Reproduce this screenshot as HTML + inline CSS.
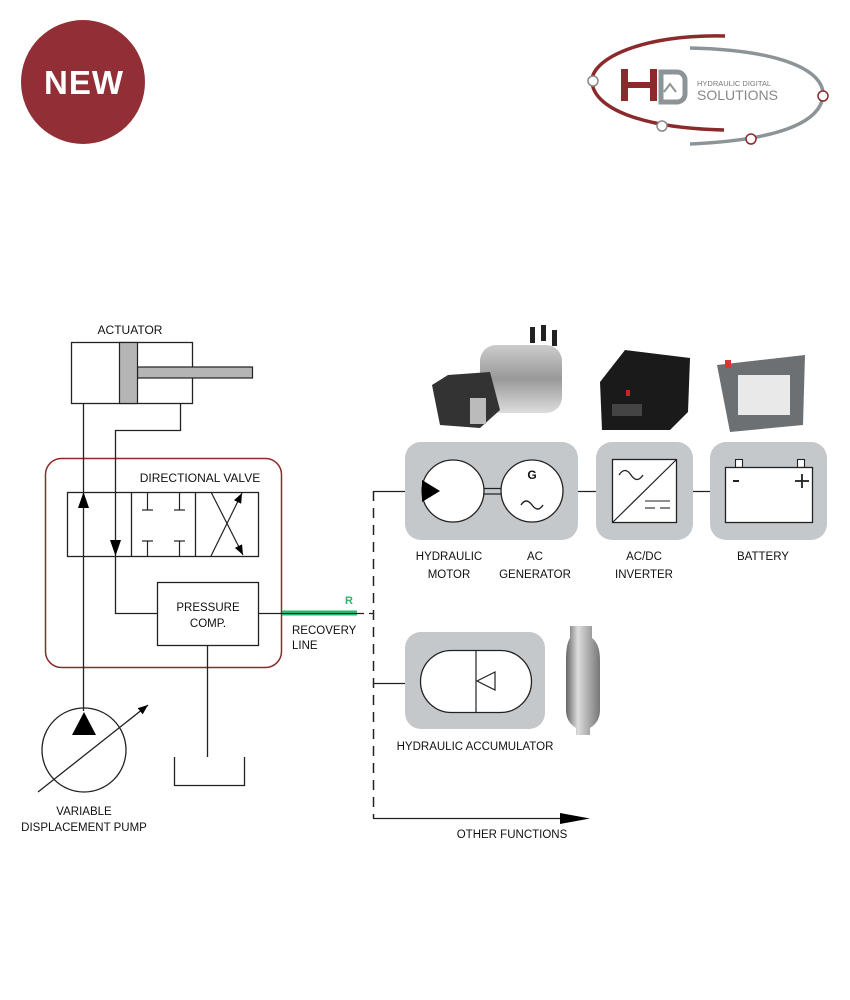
<!DOCTYPE html>
<html><head><meta charset="utf-8"><style>
html,body{margin:0;padding:0;background:#fff;}
svg{display:block;}
text{font-family:"Liberation Sans",sans-serif;fill:#111;}
</style></head><body>
<svg width="850" height="1000" viewBox="0 0 850 1000" xmlns="http://www.w3.org/2000/svg">
<defs>
<marker id="ah" viewBox="0 0 10 10" refX="10" refY="5" markerWidth="10" markerHeight="10" markerUnits="userSpaceOnUse" orient="auto"><path d="M0,1 L10,5 L0,9 z" fill="#000"/></marker>
<linearGradient id="metal" x1="0" x2="1"><stop offset="0" stop-color="#666"/><stop offset="0.35" stop-color="#ddd"/><stop offset="1" stop-color="#777"/></linearGradient>
<linearGradient id="mot" x1="0" x2="0" y1="0" y2="1"><stop offset="0" stop-color="#ccc"/><stop offset="0.5" stop-color="#999"/><stop offset="1" stop-color="#ddd"/></linearGradient>
</defs>

<!-- NEW badge -->
<circle cx="83" cy="82" r="62" fill="#922f36"/>
<text x="84" y="94" font-size="33" font-weight="bold" text-anchor="middle" style="fill:#fff" letter-spacing="1">NEW</text>

<!-- Logo -->
<path d="M725,36 C640,34 590,60 592,82 C594,108 640,128 724,130" fill="none" stroke="#8b2a2a" stroke-width="3.5"/>
<path d="M690,48 C780,50 825,70 823,96 C820,122 780,140 690,144" fill="none" stroke="#8d9498" stroke-width="3.5"/>
<circle cx="593" cy="81" r="5" fill="#fff" stroke="#888" stroke-width="1.5"/>
<circle cx="662" cy="126" r="5" fill="#fff" stroke="#888" stroke-width="1.5"/>
<circle cx="823" cy="96" r="5" fill="#fff" stroke="#8b2a2a" stroke-width="1.5"/>
<circle cx="751" cy="139" r="5" fill="#fff" stroke="#8b2a2a" stroke-width="1.5"/>
<g fill="#8b2a2a"><rect x="621" y="69" width="7" height="32"/><rect x="650" y="69" width="7" height="32"/><rect x="621" y="82" width="36" height="6"/></g>
<path d="M661,72 h16 a8,8 0 0 1 8,8 v14 a8,8 0 0 1 -8,8 h-16 z" fill="none" stroke="#8d9498" stroke-width="5"/>
<path d="M664,92 l6,-8 l6,8" fill="none" stroke="#8d9498" stroke-width="2"/>
<text x="697" y="86" font-size="7.5" style="fill:#777">HYDRAULIC DIGITAL</text>
<text x="697" y="100" font-size="14" style="fill:#888">SOLUTIONS</text>

<!-- product images -->
<g>
<rect x="480" y="345" width="82" height="68" rx="16" fill="url(#mot)"/>
<rect x="530" y="327" width="5" height="16" fill="#222"/><rect x="541" y="325" width="5" height="16" fill="#222"/><rect x="552" y="330" width="5" height="16" fill="#222"/>
<path d="M432,385 L448,375 L490,372 L500,410 L480,428 L440,425 Z" fill="#333"/>
<rect x="470" y="398" width="16" height="26" fill="#bbb"/>
<path d="M600,382 L625,350 L690,358 L688,412 L670,430 L602,430 Z" fill="#1a1a1a"/>
<rect x="612" y="404" width="30" height="12" fill="#444"/><rect x="626" y="390" width="4" height="6" fill="#c22"/>
<path d="M717,365 L805,355 L803,425 L730,432 Z" fill="#6d7073"/>
<rect x="738" y="375" width="52" height="40" fill="#e9e9e9"/>
<rect x="725" y="360" width="6" height="8" fill="#d33"/>
</g>

<!-- accumulator bottle -->
<path d="M570,626 h22 v12 q8,6 8,22 v50 q0,12 -10,18 v7 h-14 v-7 q-10,-6 -10,-18 v-50 q0,-16 4,-22 z" fill="url(#metal)"/>

<!-- actuator -->
<text x="130" y="334" font-size="12" text-anchor="middle">ACTUATOR</text>
<rect x="71.5" y="342.5" width="121" height="61" fill="#fff" stroke="#222" stroke-width="1.3"/>
<rect x="137.5" y="367" width="115" height="11" fill="#b5b5b5" stroke="#222" stroke-width="1.2"/>
<rect x="119.5" y="342.5" width="18" height="61" fill="#b5b5b5" stroke="#222" stroke-width="1.2"/>

<!-- red enclosure -->
<rect x="45.5" y="458.5" width="236" height="209" rx="16" fill="none" stroke="#8b2a2a" stroke-width="1.5"/>
<text x="200" y="482" font-size="12" text-anchor="middle">DIRECTIONAL VALVE</text>

<!-- valve -->
<rect x="67.5" y="492.5" width="191" height="64" fill="none" stroke="#222" stroke-width="1.3"/>
<line x1="131.5" y1="492" x2="131.5" y2="556" stroke="#222" stroke-width="1.3"/>
<line x1="195.5" y1="492" x2="195.5" y2="556" stroke="#222" stroke-width="1.3"/>
<g stroke="#222" stroke-width="1.2">
<line x1="147.5" y1="492" x2="147.5" y2="510"/><line x1="142" y1="510" x2="153" y2="510"/>
<line x1="179.5" y1="492" x2="179.5" y2="510"/><line x1="174" y1="510" x2="185" y2="510"/>
<line x1="147.5" y1="556" x2="147.5" y2="541"/><line x1="142" y1="541" x2="153" y2="541"/>
<line x1="179.5" y1="556" x2="179.5" y2="541"/><line x1="174" y1="541" x2="185" y2="541"/>
<line x1="211" y1="556" x2="242" y2="493" marker-end="url(#ah)"/>
<line x1="211" y1="492" x2="243" y2="555" marker-end="url(#ah)"/>
</g>

<!-- lines -->
<g stroke="#222" stroke-width="1.3" fill="none">
<line x1="83.5" y1="403" x2="83.5" y2="711"/>
<polyline points="180.5,403 180.5,430.5 115.5,430.5 115.5,613.5 157,613.5"/>
<line x1="207.5" y1="645" x2="207.5" y2="757"/>
<polyline points="174.5,757 174.5,785.5 244.5,785.5 244.5,757"/>
<line x1="258" y1="613.5" x2="359" y2="613.5"/>
</g>
<path d="M78,508 L83.5,492 L89,508 Z" fill="#000"/>
<path d="M110,540 L115.5,556 L121,540 Z" fill="#000"/>

<!-- pressure comp -->
<rect x="157.5" y="582.5" width="101" height="63" fill="#fff" stroke="#222" stroke-width="1.3"/>
<text x="208" y="611" font-size="11.5" text-anchor="middle">PRESSURE</text>
<text x="208" y="627" font-size="11.5" text-anchor="middle">COMP.</text>

<!-- recovery -->
<line x1="282" y1="613" x2="357" y2="613" stroke="#2fb36a" stroke-width="5"/>
<line x1="282" y1="613.5" x2="359" y2="613.5" stroke="#222" stroke-width="1"/>
<text x="345" y="604" font-size="11" style="fill:#2fb36a" font-weight="bold">R</text>
<text x="292" y="634" font-size="11.5">RECOVERY</text>
<text x="292" y="649" font-size="11.5">LINE</text>

<!-- pump -->
<circle cx="84" cy="750" r="42" fill="none" stroke="#222" stroke-width="1.3"/>
<path d="M72,735 L84,712 L96,735 Z" fill="#000"/>
<line x1="38" y1="792" x2="148" y2="705" stroke="#222" stroke-width="1.3" marker-end="url(#ah)"/>
<text x="84" y="815" font-size="11.5" text-anchor="middle">VARIABLE</text>
<text x="84" y="831" font-size="11.5" text-anchor="middle">DISPLACEMENT PUMP</text>

<!-- dashed bus -->
<line x1="373.5" y1="491" x2="373.5" y2="818" stroke="#222" stroke-width="1.5" stroke-dasharray="10,7"/>
<line x1="359" y1="613.5" x2="373" y2="613.5" stroke="#222" stroke-width="1.3" stroke-dasharray="5,5"/>
<line x1="373" y1="491.5" x2="406" y2="491.5" stroke="#222" stroke-width="1.3"/>
<line x1="373" y1="683.5" x2="406" y2="683.5" stroke="#222" stroke-width="1.3"/>
<line x1="373" y1="818.5" x2="560" y2="818.5" stroke="#222" stroke-width="1.3"/>
<path d="M560,813 L590,818.5 L560,824 Z" fill="#000"/>
<text x="512" y="838" font-size="11.5" text-anchor="middle">OTHER FUNCTIONS</text>

<!-- gray boxes -->
<rect x="405" y="442" width="173" height="98" rx="16" fill="#c5c8cb"/>
<rect x="596" y="442" width="97" height="98" rx="16" fill="#c5c8cb"/>
<rect x="710" y="442" width="117" height="98" rx="16" fill="#c5c8cb"/>
<line x1="578" y1="491.5" x2="596" y2="491.5" stroke="#222" stroke-width="1.3"/>
<line x1="693" y1="491.5" x2="710" y2="491.5" stroke="#222" stroke-width="1.3"/>

<circle cx="453" cy="491" r="31" fill="#fff" stroke="#222" stroke-width="1.3"/>
<circle cx="532" cy="491" r="31" fill="#fff" stroke="#222" stroke-width="1.3"/>
<line x1="484" y1="488.5" x2="501" y2="488.5" stroke="#222" stroke-width="1.2"/>
<line x1="484" y1="494" x2="501" y2="494" stroke="#222" stroke-width="1.2"/>
<path d="M422,480 L440,491 L422,502 Z" fill="#000"/>
<text x="532" y="479" font-size="12" font-weight="bold" text-anchor="middle">G</text>
<path d="M521,505 q5,-8 11,0 t11,0" fill="none" stroke="#222" stroke-width="1.4"/>

<rect x="612.5" y="459.5" width="64" height="63" fill="#fff" stroke="#222" stroke-width="1.3"/>
<line x1="612.5" y1="522.5" x2="676.5" y2="459.5" stroke="#222" stroke-width="1.2"/>
<path d="M619,475 q6,-9 12,0 t12,0" fill="none" stroke="#222" stroke-width="1.3"/>
<g stroke="#222" stroke-width="1.1"><line x1="645" y1="501" x2="670" y2="501"/><line x1="645" y1="508" x2="655" y2="508"/><line x1="660" y1="508" x2="670" y2="508"/></g>

<rect x="735.5" y="459.5" width="7" height="8" fill="#fff" stroke="#222" stroke-width="1.1"/>
<rect x="797.5" y="459.5" width="7" height="8" fill="#fff" stroke="#222" stroke-width="1.1"/>
<rect x="725.5" y="467.5" width="87" height="55" fill="#fff" stroke="#222" stroke-width="1.3"/>
<line x1="733" y1="481" x2="739" y2="481" stroke="#222" stroke-width="2"/>
<line x1="795" y1="481" x2="809" y2="481" stroke="#222" stroke-width="1.8"/>
<line x1="802" y1="474" x2="802" y2="488" stroke="#222" stroke-width="1.8"/>

<g font-size="11.5" text-anchor="middle">
<text x="449" y="560">HYDRAULIC</text><text x="449" y="578">MOTOR</text>
<text x="535" y="560">AC</text><text x="535" y="578">GENERATOR</text>
<text x="644" y="560">AC/DC</text><text x="644" y="578">INVERTER</text>
<text x="763" y="560">BATTERY</text>
</g>

<!-- accumulator -->
<rect x="405" y="632" width="140" height="97" rx="16" fill="#c5c8cb"/>
<rect x="420.5" y="650.5" width="111" height="62" rx="31" fill="#fff" stroke="#222" stroke-width="1.3"/>
<line x1="476" y1="650" x2="476" y2="712" stroke="#222" stroke-width="1.2"/>
<path d="M495,672 L477,681 L495,690 Z" fill="none" stroke="#222" stroke-width="1.2"/>
<text x="475" y="750" font-size="11.5" text-anchor="middle">HYDRAULIC ACCUMULATOR</text>
</svg>
</body></html>
